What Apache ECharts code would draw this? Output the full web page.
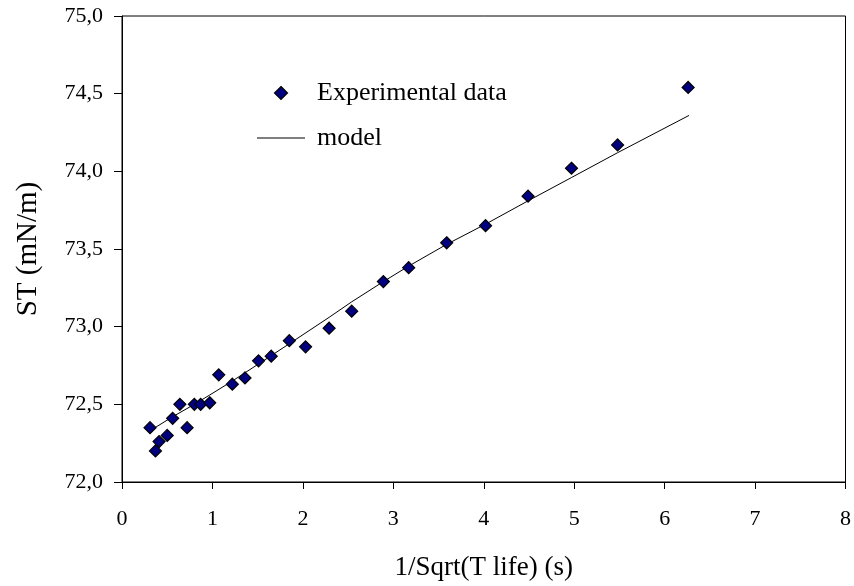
<!DOCTYPE html>
<html>
<head>
<meta charset="utf-8">
<script src="https://cdn.jsdelivr.net/npm/echarts@6/dist/echarts.min.js"></script>
<style>
html,body{margin:0;padding:0;background:#fff;}
#chart{width:854px;height:586px;}
</style>
</head>
<body>
<div id="chart"></div>
<script>
var expX = [0.31,0.37,0.41,0.50,0.56,0.64,0.72,0.80,0.87,0.97,1.07,1.22,1.36,1.51,1.65,1.85,2.03,2.29,2.54,2.89,3.17,3.59,4.02,4.49,4.97,5.48,6.26];
var expY = [72.35,72.20,72.26,72.30,72.41,72.50,72.35,72.50,72.50,72.51,72.69,72.63,72.67,72.78,72.81,72.91,72.87,72.99,73.10,73.29,73.38,73.54,73.65,73.84,74.02,74.17,74.54];
var modelX = [0.31,0.56,0.80,0.97,1.22,1.51,1.85,2.29,2.54,2.89,3.17,3.59,4.02,4.49,4.97,5.48,6.27];
var modelY = [72.33,72.42,72.50,72.56,72.65,72.76,72.89,73.06,73.16,73.29,73.39,73.53,73.66,73.81,73.96,74.12,74.36];
var seriesNames = ['Experimental data', 'model'];
var xTitle = '1/Sqrt(T life) (s)';
var yTitle = 'ST (mN/m)';

var font = '"Liberation Serif", "Times New Roman", serif';
function zip(a, b) { return a.map(function (v, i) { return [v, b[i]]; }); }

var chart = echarts.init(document.getElementById('chart'), null, {renderer: 'canvas'});
chart.setOption({
  animation: false,
  backgroundColor: '#fff',
  grid: {left: 122, right: 5, top: 16, bottom: 97, show: true, borderColor: '#000', borderWidth: 1, containLabel: false},
  legend: {
    data: [
      {name: seriesNames[0], icon: 'path://M5,0L10,5L5,10L0,5Z',
        itemStyle: {color: '#000080', borderColor: '#000', borderWidth: 1.2}},
      {name: seriesNames[1], icon: 'path://M0,0L48,0L48,1L0,1Z',
        itemStyle: {color: '#000', borderWidth: 0}}
    ],
    orient: 'vertical',
    left: 257, top: 78, padding: 0,
    itemWidth: 48, itemHeight: 13, itemGap: 15,
    symbolKeepAspect: true,
    textStyle: {fontFamily: font, fontSize: 26, color: '#000', lineHeight: 30, padding: [0, 0, 0, 7]}
  },
  xAxis: {
    type: 'value', min: 0, max: 8, interval: 1,
    name: xTitle, nameLocation: 'middle', nameGap: 72,
    nameTextStyle: {fontFamily: font, fontSize: 27, color: '#000'},
    axisLine: {show: true, onZero: false, lineStyle: {color: '#000', width: 1}},
    axisTick: {show: true, length: 7, lineStyle: {color: '#000'}},
    axisLabel: {fontFamily: font, fontSize: 22, color: '#000', margin: 26},
    splitLine: {show: false}
  },
  yAxis: {
    type: 'value', min: 72, max: 75, interval: 0.5,
    name: yTitle, nameLocation: 'middle', nameGap: 79,
    nameTextStyle: {fontFamily: font, fontSize: 29, color: '#000'},
    axisLine: {show: true, onZero: false, lineStyle: {color: '#000', width: 1}},
    axisTick: {show: true, length: 8, lineStyle: {color: '#000'}},
    axisLabel: {fontFamily: font, fontSize: 22, color: '#000', margin: 19,
      formatter: function (v) { return v.toFixed(1).replace('.', ','); }},
    splitLine: {show: false}
  },
  series: [
    {
      name: seriesNames[0], type: 'scatter', symbol: 'diamond', symbolSize: 12, z: 3,
      itemStyle: {color: '#000080', borderColor: '#000', borderWidth: 1.2, opacity: 1},
      data: zip(expX, expY)
    },
    {
      name: seriesNames[1], type: 'line', symbol: 'none', z: 2,
      lineStyle: {color: '#000', width: 1},
      itemStyle: {color: '#000'},
      data: zip(modelX, modelY)
    }
  ]
});
</script>
</body>
</html>
